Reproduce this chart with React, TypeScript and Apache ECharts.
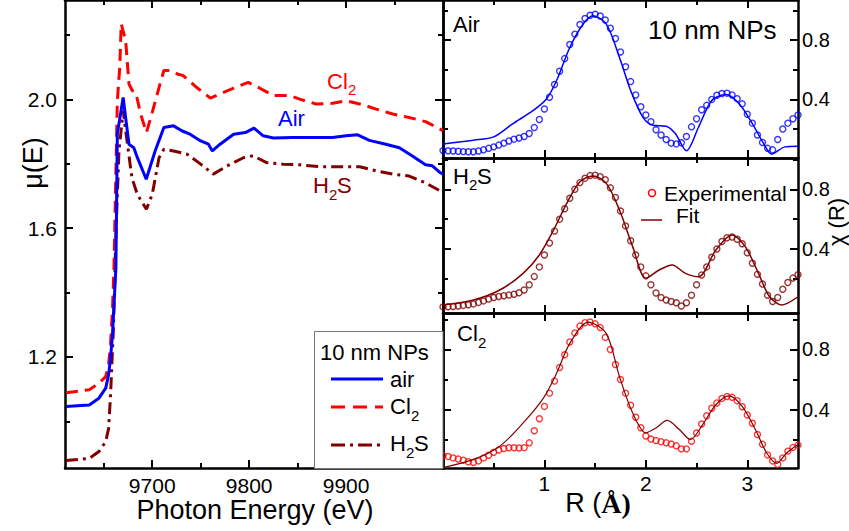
import React, { useEffect, useRef } from "react";
import * as echarts from "echarts";

// ---------- Left panel: XANES mu(E) ----------
const E_AIR = [9611, 9635, 9645, 9652, 9655, 9657, 9659, 9662.5, 9664, 9670, 9676, 9681, 9684.6, 9693.8, 9703, 9712, 9722, 9731, 9739, 9750, 9758, 9762, 9770, 9784, 9796, 9805, 9814.5, 9825, 9845, 9866, 9886, 9900, 9912, 9924, 9941, 9955, 9968, 9982, 9989, 9997, 10000];
const MU_AIR = [1.046, 1.051, 1.072, 1.103, 1.145, 1.196, 1.27, 1.476, 1.893, 2.006, 1.861, 1.85, 1.82, 1.752, 1.84, 1.913, 1.918, 1.902, 1.892, 1.871, 1.861, 1.84, 1.861, 1.892, 1.897, 1.911, 1.887, 1.88, 1.882, 1.882, 1.882, 1.887, 1.89, 1.873, 1.861, 1.85, 1.825, 1.797, 1.794, 1.773, 1.768];

const E_CL2 = [9611, 9635, 9645, 9652, 9655, 9657, 9659, 9660.6, 9664, 9666.5, 9668, 9672.6, 9676, 9679.5, 9683, 9688, 9694, 9700, 9707, 9712, 9719, 9726, 9732, 9746, 9760, 9770, 9784, 9799, 9811, 9825, 9842, 9852, 9869, 9886, 9900, 9917, 9931, 9948, 9965, 9982, 9997, 10000];
const MU_CL2 = [1.089, 1.098, 1.118, 1.139, 1.177, 1.239, 1.35, 1.488, 1.996, 2.1, 2.235, 2.183, 2.048, 2.027, 2.022, 1.955, 1.897, 1.96, 2.037, 2.09, 2.09, 2.079, 2.074, 2.037, 2.004, 2.017, 2.035, 2.053, 2.035, 2.012, 2.012, 2.001, 1.986, 1.988, 1.996, 1.984, 1.97, 1.955, 1.944, 1.931, 1.908, 1.903];

const E_H2S = [9611, 9635, 9645, 9652, 9655, 9657, 9660, 9662.5, 9665.7, 9670, 9674, 9679, 9684.6, 9694, 9700, 9707, 9712, 9722, 9736, 9750, 9763, 9777, 9794, 9804, 9818, 9835, 9852, 9873, 9893, 9914, 9931, 9948, 9965, 9982, 9997, 10000];
const MU_H2S = [0.878, 0.885, 0.906, 0.937, 0.978, 1.082, 1.29, 1.582, 1.84, 1.965, 1.871, 1.757, 1.705, 1.659, 1.705, 1.819, 1.845, 1.84, 1.83, 1.799, 1.768, 1.793, 1.819, 1.825, 1.804, 1.799, 1.797, 1.791, 1.791, 1.791, 1.778, 1.768, 1.762, 1.741, 1.716, 1.712];

const E_TICKS = [9700, 9800, 9900];
const E_MINOR = [9650, 9750, 9850, 9950];
const MU_TICKS = [1.2, 1.6, 2.0];
const MU_MINOR = [1.0, 1.4, 1.8, 2.2];

// ---------- Right panels: chi(R) ----------
const R_GRID = [0, 0.05, 0.1, 0.15, 0.2, 0.25, 0.3, 0.35, 0.4, 0.45, 0.5, 0.55, 0.6, 0.65, 0.7, 0.75, 0.8, 0.85, 0.9, 0.95, 1.0, 1.05, 1.1, 1.15, 1.2, 1.25, 1.3, 1.35, 1.4, 1.45, 1.5, 1.55, 1.6, 1.65, 1.7, 1.75, 1.8, 1.85, 1.9, 1.95, 2.0, 2.05, 2.1, 2.15, 2.2, 2.25, 2.3, 2.35, 2.4, 2.45, 2.5, 2.55, 2.6, 2.65, 2.7, 2.75, 2.8, 2.85, 2.9, 2.95, 3.0, 3.05, 3.1, 3.15, 3.2, 3.25, 3.3, 3.35, 3.4, 3.45, 3.5];

const EXP_AIR = [0.055, 0.054, 0.052, 0.05, 0.048, 0.047, 0.047, 0.052, 0.06, 0.07, 0.08, 0.092, 0.105, 0.12, 0.132, 0.14, 0.15, 0.17, 0.21, 0.265, 0.335, 0.415, 0.5, 0.59, 0.675, 0.77, 0.84, 0.905, 0.945, 0.967, 0.974, 0.962, 0.935, 0.88, 0.81, 0.72, 0.62, 0.52, 0.43, 0.35, 0.295, 0.25, 0.195, 0.16, 0.13, 0.105, 0.1, 0.108, 0.15, 0.215, 0.27, 0.33, 0.36, 0.4, 0.428, 0.44, 0.442, 0.43, 0.405, 0.37, 0.3, 0.24, 0.16, 0.11, 0.07, 0.06, 0.13, 0.2, 0.24, 0.27, 0.295];
const EXP_H2S = [0.012, 0.013, 0.015, 0.018, 0.022, 0.026, 0.032, 0.042, 0.052, 0.064, 0.075, 0.082, 0.087, 0.091, 0.097, 0.107, 0.125, 0.16, 0.215, 0.28, 0.36, 0.44, 0.52, 0.6, 0.67, 0.74, 0.8, 0.845, 0.875, 0.892, 0.895, 0.885, 0.865, 0.81, 0.745, 0.655, 0.555, 0.455, 0.36, 0.28, 0.22, 0.16, 0.105, 0.075, 0.058, 0.048, 0.04, 0.018, 0.04, 0.09, 0.16, 0.225, 0.28, 0.345, 0.4, 0.45, 0.475, 0.48, 0.465, 0.435, 0.375, 0.305, 0.23, 0.165, 0.09, 0.048, 0.075, 0.13, 0.175, 0.205, 0.228];
const EXP_CL2 = [0.095, 0.09, 0.08, 0.072, 0.065, 0.055, 0.05, 0.06, 0.08, 0.098, 0.118, 0.133, 0.142, 0.147, 0.147, 0.146, 0.148, 0.18, 0.26, 0.34, 0.422, 0.51, 0.59, 0.68, 0.765, 0.85, 0.91, 0.955, 0.978, 0.982, 0.97, 0.945, 0.88, 0.8, 0.7, 0.6, 0.51, 0.43, 0.35, 0.28, 0.225, 0.205, 0.195, 0.188, 0.18, 0.172, 0.16, 0.14, 0.14, 0.19, 0.245, 0.305, 0.36, 0.41, 0.445, 0.475, 0.488, 0.482, 0.46, 0.42, 0.365, 0.31, 0.235, 0.17, 0.1, 0.06, 0.037, 0.08, 0.125, 0.15, 0.165];

const FIT_AIR_R = [0.0, 0.3, 0.5, 0.69, 0.89, 1.02, 1.12, 1.25, 1.38, 1.48, 1.61, 1.74, 1.85, 1.97, 2.07, 2.2, 2.29, 2.4, 2.52, 2.65, 2.79, 2.92, 3.05, 3.16, 3.24, 3.37, 3.5];
const FIT_AIR = [0.1, 0.125, 0.147, 0.237, 0.326, 0.403, 0.527, 0.75, 0.907, 0.963, 0.907, 0.683, 0.46, 0.281, 0.226, 0.219, 0.17, 0.054, 0.214, 0.393, 0.433, 0.371, 0.237, 0.103, 0.031, 0.08, 0.085];
const FIT_H2S_R = [0.0, 0.3, 0.56, 0.79, 0.95, 1.09, 1.22, 1.35, 1.48, 1.61, 1.74, 1.87, 2.0, 2.13, 2.26, 2.39, 2.52, 2.69, 2.85, 2.98, 3.11, 3.22, 3.34, 3.5];
const FIT_H2S = [0.025, 0.058, 0.125, 0.237, 0.36, 0.527, 0.706, 0.851, 0.889, 0.84, 0.661, 0.416, 0.204, 0.259, 0.293, 0.237, 0.214, 0.393, 0.494, 0.416, 0.237, 0.08, 0.025, 0.08];
const FIT_CL2_R = [0.0, 0.3, 0.56, 0.79, 0.99, 1.12, 1.25, 1.43, 1.61, 1.74, 1.87, 2.0, 2.1, 2.21, 2.33, 2.44, 2.56, 2.69, 2.82, 2.95, 3.08, 3.19, 3.29, 3.39, 3.5];
const FIT_CL2 = [0.016, 0.07, 0.158, 0.312, 0.477, 0.642, 0.84, 0.982, 0.905, 0.619, 0.378, 0.246, 0.279, 0.329, 0.268, 0.202, 0.301, 0.433, 0.492, 0.422, 0.268, 0.114, 0.044, 0.114, 0.169];

const R_TICKS = [1, 2, 3];
const R_MINOR = [0.5, 1.5, 2.5];
const CHI_TICKS = [0.4, 0.8];
const CHI_MINOR = [0.2, 0.6, 1.0];

const BLUE = "#0000ff";
const RED = "#ff0000";
const MAROON = "#800000";
const FONT = "Liberation Sans, Arial, sans-serif";

const zip = (a: number[], b: number[]) => a.map((v, i) => [v, b[i]]);

function axisSet(
  grid: number,
  min: number,
  max: number,
  major: number[],
  minor: number[],
  positions: [string, string],
  labelPos: string | null,
  fmt: (v: number) => string,
  labelSize: number,
  labelMargin: number
) {
  const base = (pos: string, ticks: number[], len: number, isMajor: boolean) => ({
    type: "value",
    gridIndex: grid,
    position: pos,
    min,
    max,
    splitLine: { show: false },
    axisLine: { show: isMajor, onZero: false, lineStyle: { color: "#000", width: 2.5 } },
    axisTick: { show: true, inside: true, length: len, customValues: ticks, lineStyle: { color: "#000", width: 2 } },
    axisLabel:
      isMajor && pos === labelPos
        ? { show: true, customValues: major, formatter: fmt, fontSize: labelSize, fontFamily: FONT, color: "#000", margin: labelMargin }
        : { show: false },
  });
  return [
    base(positions[0], major, 8, true),
    base(positions[1], major, 8, true),
    base(positions[0], minor, 5, false),
    base(positions[1], minor, 5, false),
  ];
}

function txt(text: string, x: number, y: number, size: number, color = "#000", align = "left", extra: any = {}) {
  return {
    type: "text",
    x,
    y,
    silent: true,
    ...extra,
    style: { text, fill: color, fontSize: size, fontFamily: FONT, textAlign: align, textVerticalAlign: "middle", ...(extra.style || {}) },
  };
}

export default function App() {
  const ref = useRef<HTMLDivElement>(null);
  useEffect(() => {
    if (!ref.current) return;
    const chart = echarts.init(ref.current, null, { renderer: "svg" });

    const grids = [
      { left: 65, top: -1, width: 378, height: 469 },
      { left: 443, top: -1, width: 355, height: 159 },
      { left: 443, top: 158, width: 355, height: 155 },
      { left: 443, top: 313, width: 355, height: 155 },
    ];
    const fmt1 = (v: number) => v.toFixed(1);
    const fmt0 = (v: number) => String(Math.round(v));

    const xAxis: any[] = [
      ...axisSet(0, 9610, 10000, E_TICKS, E_MINOR, ["bottom", "top"], "bottom", fmt0, 21, 7),
      ...axisSet(1, 0, 3.5, R_TICKS, R_MINOR, ["bottom", "top"], null, fmt0, 21, 5),
      ...axisSet(2, 0, 3.5, R_TICKS, R_MINOR, ["bottom", "top"], null, fmt0, 21, 5),
      ...axisSet(3, 0, 3.5, R_TICKS, R_MINOR, ["bottom", "top"], "bottom", fmt0, 21, 5),
    ];
    const yAxis: any[] = [
      ...axisSet(0, 0.855, 2.309, MU_TICKS, MU_MINOR, ["left", "right"], "left", fmt1, 21, 8),
      ...axisSet(1, 0.005, 1.07, CHI_TICKS, CHI_MINOR, ["left", "right"], "right", fmt1, 20, 4),
      ...axisSet(2, -0.029, 1.01, CHI_TICKS, CHI_MINOR, ["left", "right"], "right", fmt1, 20, 4),
      ...axisSet(3, 0.013, 1.042, CHI_TICKS, CHI_MINOR, ["left", "right"], "right", fmt1, 20, 4),
    ];

    const lineS = (data: number[][], color: string, type: any, width: number, g: number, smooth: any = false) => ({
      type: "line",
      xAxisIndex: g * 4,
      yAxisIndex: g * 4,
      data,
      smooth,
      symbol: "none",
      showSymbol: false,
      silent: true,
      lineStyle: { color, width, type },
    });
    const scat = (data: number[][], color: string, g: number) => ({
      type: "scatter",
      xAxisIndex: g * 4,
      yAxisIndex: g * 4,
      data,
      symbol: "circle",
      symbolSize: 6,
      silent: true,
      itemStyle: { color: "rgba(0,0,0,0)", borderColor: color, borderWidth: 1.4 },
    });

    const series: any[] = [
      lineS(zip(E_H2S, MU_H2S), MAROON, [12, 5, 3, 5], 3, 0),
      lineS(zip(E_CL2, MU_CL2), RED, [12, 7], 3, 0),
      lineS(zip(E_AIR, MU_AIR), BLUE, "solid", 3, 0),
      scat(zip(R_GRID, EXP_AIR), BLUE, 1),
      lineS(zip(FIT_AIR_R, FIT_AIR), BLUE, "solid", 1.5, 1, 0.3),
      scat(zip(R_GRID, EXP_H2S), MAROON, 2),
      lineS(zip(FIT_H2S_R, FIT_H2S), MAROON, "solid", 1.5, 2, 0.3),
      scat(zip(R_GRID, EXP_CL2), RED, 3),
      lineS(zip(FIT_CL2_R, FIT_CL2), MAROON, "solid", 1.2, 3, 0.3),
    ];

    const graphic: any[] = [
      // axis titles
      txt("Photon Energy (eV)", 255, 510, 27, "#000", "center"),
      txt("μ(E)", 33, 163, 27, "#000", "center", { rotation: Math.PI / 2 }),
      {
        type: "text",
        x: 598,
        y: 503,
        silent: true,
        style: {
          text: "{a|R (}{b|Å)}",
          textAlign: "center",
          textVerticalAlign: "middle",
          rich: {
            a: { fontFamily: FONT, fontSize: 27, fill: "#000" },
            b: { fontFamily: "Liberation Serif, serif", fontWeight: "bold", fontSize: 28, fill: "#000" },
          },
        },
      },
      txt("χ (R)", 836, 222, 22, "#000", "center", { rotation: Math.PI / 2 }),
      // left panel curve labels
      txt("Cl", 327, 81, 22, RED),
      txt("2", 348, 89, 15, RED),
      txt("Air", 278, 118, 22, BLUE),
      txt("H", 313, 185, 22, MAROON),
      txt("2", 329, 194, 15, MAROON),
      txt("S", 337, 185, 22, MAROON),
      // legend box
      {
        type: "rect",
        silent: true,
        shape: { x: 314.5, y: 331.5, width: 128.5, height: 137 },
        style: { fill: "#fff", stroke: "#777", lineWidth: 1 },
        z: 10,
      },
      { ...txt("10 nm NPs", 320, 352, 22), z: 11 },
      { type: "line", silent: true, z: 11, shape: { x1: 331, y1: 379, x2: 383, y2: 379 }, style: { stroke: BLUE, lineWidth: 3 } },
      { ...txt("air", 390, 379, 22), z: 11 },
      { type: "line", silent: true, z: 11, shape: { x1: 331, y1: 407, x2: 383, y2: 407 }, style: { stroke: RED, lineWidth: 3, lineDash: [14, 8] } },
      { ...txt("Cl", 390, 406, 22), z: 11 },
      { ...txt("2", 411, 415, 15), z: 11 },
      { type: "line", silent: true, z: 11, shape: { x1: 331, y1: 445, x2: 383, y2: 445 }, style: { stroke: MAROON, lineWidth: 3, lineDash: [14, 5, 3, 5] } },
      { ...txt("H", 390, 443, 22), z: 11 },
      { ...txt("2", 406, 452, 15), z: 11 },
      { ...txt("S", 414, 443, 22), z: 11 },
      // right panel labels
      txt("Air", 453, 24, 22),
      txt("10 nm NPs", 648, 30, 26),
      txt("H", 453, 176, 22),
      txt("2", 469, 184, 15),
      txt("S", 477, 176, 22),
      txt("Cl", 457, 333, 22),
      txt("2", 478, 342, 15),
      {
        type: "circle",
        silent: true,
        shape: { cx: 652, cy: 193, r: 3.5 },
        style: { fill: "none", stroke: RED, lineWidth: 1.5 },
      },
      txt("Experimental", 664, 193, 21),
      { type: "line", silent: true, shape: { x1: 641, y1: 220, x2: 662, y2: 220 }, style: { stroke: MAROON, lineWidth: 1.5 } },
      txt("Fit", 676, 215, 21),
    ];

    chart.setOption({
      animation: false,
      backgroundColor: "#fff",
      grid: grids,
      xAxis,
      yAxis,
      series,
      graphic,
    });
    return () => chart.dispose();
  }, []);
  return (
    <div
      ref={ref}
      style={{ position: "absolute", left: 0, top: 0, width: 849, height: 531, background: "#fff" }}
    />
  );
}
